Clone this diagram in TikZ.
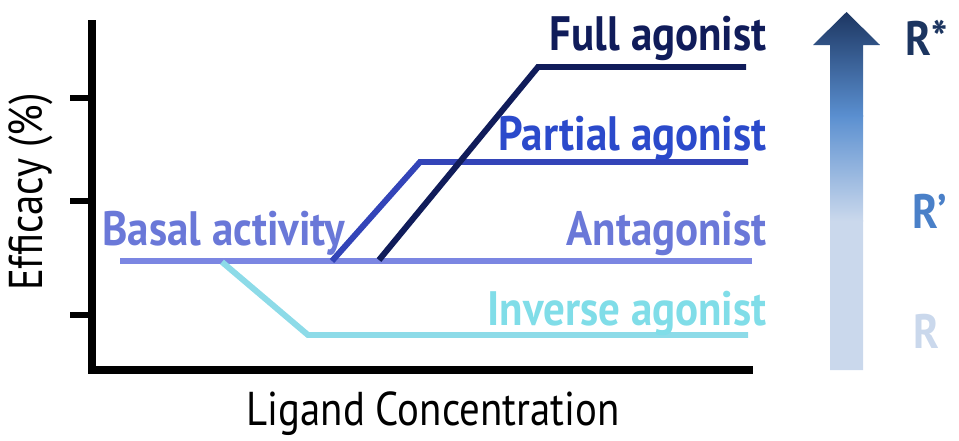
\documentclass[tikz,border=0pt]{standalone}
\usepackage{fontspec}
\setmainfont{PT Sans}
\newfontfamily\labfont{PT Sans}[FakeStretch=0.89]
\newfontfamily\axisfont{PT Sans}[FakeStretch=0.86]
\usetikzlibrary{calc}
\definecolor{fullcol}{HTML}{101C5A}
\definecolor{partcol}{HTML}{3344B8}
\definecolor{partlab}{HTML}{2B4ACB}
\definecolor{basalcol}{HTML}{7B86E2}
\definecolor{basallab}{HTML}{6A78D8}
\definecolor{invcol}{HTML}{8DDBE8}
\definecolor{invlab}{HTML}{80DDE8}
\definecolor{rstar}{HTML}{1C3560}
\definecolor{rmid}{HTML}{5A8FD0}
\definecolor{rpale}{HTML}{CAD8EC}
\definecolor{rprime}{HTML}{4A80C8}
\begin{document}
\begin{tikzpicture}[x=0.02cm, y=-0.02cm,
  curve/.style={line width=3.4pt},
  lab/.style={font=\labfont\fontsize{27.5}{30}\selectfont\bfseries, inner sep=0pt},
  axlab/.style={font=\axisfont\fontsize{27}{30}\selectfont, inner sep=0pt}]
\useasboundingbox (0,0) rectangle (959,440);
% axes
\draw[black, line width=4pt] (92,20) -- (92,370) -- (753,370);
\foreach \y in {98,201,315}
 \draw[black, line width=3.4pt] (70,\y) -- (92,\y);
\node[axlab, rotate=90] (efficacy) at (31,192) {Efficacy (\%)};
\node[axlab, anchor=base] (ligand) at (433,425) {Ligand Concentration};
% response curves
\draw[basalcol, curve] (120,261) -- (752,261);
\draw[invcol, curve] (222,262) -- (308,335) -- (748,335);
\draw[partcol, curve] (332,261) -- (420,162) -- (748,162);
\draw[fullcol, curve] (379,260) -- (538,67) -- (746,67);
\node[lab, text=fullcol, anchor=base east] (full) at (767,50) {Full agonist};
\node[lab, text=partlab, anchor=base east] (partial) at (767,150) {Partial agonist};
\node[lab, text=basallab, anchor=base east] (antagonist) at (767,245) {Antagonist};
\node[lab, text=invlab, anchor=base east] (inverse) at (767,325) {Inverse agonist};
\node[lab, text=basallab, anchor=base west] (basal) at (102,245) {Basal activity};
% state arrow
\begin{scope}
\clip (830,370) -- (830,45) -- (813,45) -- (846.5,12) -- (880,45) -- (863,45) -- (863,370) -- cycle;
\shade[top color=rpale, bottom color=rpale] (800,370) rectangle (890,220);
\shade[top color=rmid, bottom color=rpale] (800,221) rectangle (890,115);
\shade[top color=rstar, bottom color=rmid] (800,116) rectangle (890,10);
\end{scope}
\node[lab, text=rstar, anchor=base west] (rs) at (905,55) {R*};
\node[lab, text=rprime, anchor=base west] (rp) at (912,228) {R’};
\node[lab, text=rpale, anchor=base west] (r) at (913,348) {R};
\end{tikzpicture}
\end{document}
